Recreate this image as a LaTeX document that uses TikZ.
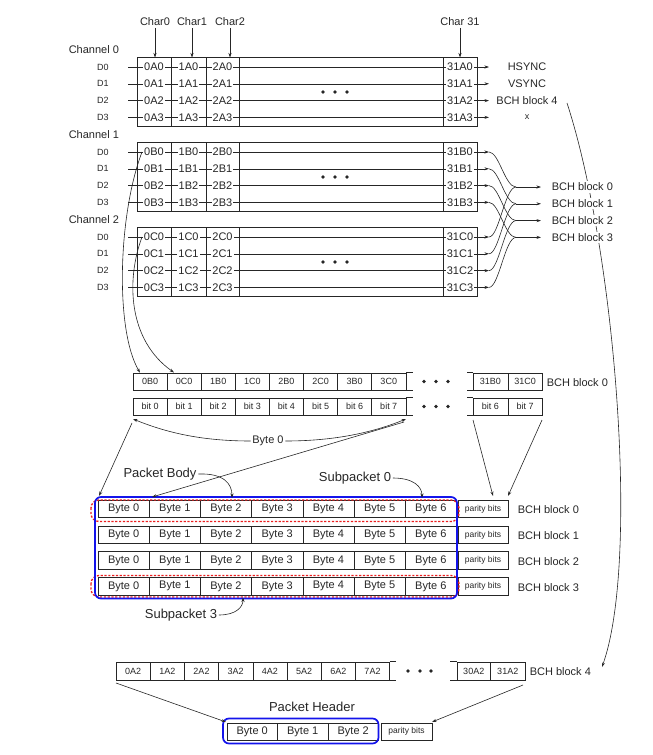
\documentclass[tikz,border=0pt]{standalone}
\usepackage{fontspec}
\setmainfont{Liberation Sans}
\usetikzlibrary{arrows.meta}
\definecolor{ink}{gray}{0.15}
\definecolor{bblue}{RGB}{20,20,235}
\definecolor{rred}{RGB}{235,30,30}
\tikzset{
  arr/.style={-{Stealth[length=4.5pt,width=3pt]}},
  lbl/.style={font=\fontsize{11}{13}\selectfont, text=ink, inner sep=1.5pt},
  big/.style={font=\fontsize{13}{15}\selectfont, text=ink, inner sep=1.5pt},
  dl/.style={font=\fontsize{9}{11}\selectfont, text=ink, inner sep=1pt},
  cell/.style={font=\fontsize{11}{13}\selectfont, text=ink, fill=white, inner sep=1pt},
  scell/.style={draw=ink, font=\fontsize{9}{11}\selectfont, text=ink, minimum width=34.1pt, minimum height=17pt, inner sep=0pt},
  bcell/.style={draw=ink, font=\fontsize{11}{13}\selectfont, text=ink, minimum width=51.2pt, minimum height=17.5pt, inner sep=0pt},
  pcell/.style={draw=ink, font=\fontsize{8.5}{10}\selectfont, text=ink, minimum width=50pt, minimum height=17.5pt, inner sep=0pt},
  hcell/.style={draw=ink, font=\fontsize{11}{13}\selectfont, text=ink, minimum width=50.5pt, minimum height=17pt, inner sep=0pt},
  dotmark/.style={fill=ink, draw=none},
  bluebox/.style={draw=bblue, line width=1.7pt, rounded corners=6pt},
  redbox/.style={draw=rred, line width=1.3pt, dash pattern=on 2.2pt off 1.6pt, rounded corners=8pt},
}
\begin{document}
\begin{tikzpicture}[x=1pt,y=-1pt,line width=0.6pt,draw=ink]
\useasboundingbox (0,0) rectangle (653,755);

% ---- Char labels
\foreach \xx/\t/\nm in {155/Char0/ca,192/Char1/cb,230/Char2/cc,460/Char 31/cd} {
  \node[lbl] (\nm) at (\xx,22) {\t};
  \coordinate (\nm t) at (\xx,57.5);
  \draw[arr] (\nm.south) -- (\nm t);
}

% ---- long curve (BCH block 4)
\coordinate (lc0) at (567,103);
\coordinate (lc1) at (602,667);
\draw[arr] (lc0) .. controls (615,250) and (640,560) .. (lc1);

% ---- channels
\foreach \L/\b/\n in {A/67/0,B/152/1,C/237/2} {
  \node[lbl,anchor=west] (chlab\n) at (67,{\b-17}) {Channel \n};
  \draw (137,{\b-9.5}) rectangle (477,{\b+59.4});
  \foreach \xx in {171,206,239,443} \draw (\xx,{\b-9.5}) -- (\xx,{\b+59.4});
  \foreach \r in {0,...,3} {
    \pgfmathsetmacro\yy{\b+16.8*\r}
    \node[dl] (d\L\r) at (103,\yy) {D\r};
    \coordinate (s\L\r) at (128,\yy);
    \coordinate (e\L\r) at (489,\yy);
    \draw[arr] (s\L\r) -- (e\L\r);
    \node[cell] (c0\L\r) at (154,\yy) {0\L\r};
    \node[cell] (c1\L\r) at (188.5,\yy) {1\L\r};
    \node[cell] (c2\L\r) at (222.5,\yy) {2\L\r};
    \node[cell] (c31\L\r) at (460,\yy) {31\L\r};
  }
  \foreach \xx in {323,335,347} \fill[dotmark] (\xx,{\b+25}) circle (1.9pt);
}

% ---- channel 0 outputs
\node[lbl] (hs) at (527,67) {HSYNC};
\node[lbl] (vs) at (527,83.8) {VSYNC};
\node[lbl] (b4top) at (527,100.6) {BCH block 4};
\node[dl] (xx) at (527,117.5) {x};

% ---- channel 1/2 to BCH blocks
\foreach \r in {0,...,3} {
  \pgfmathsetmacro\yb{152+16.8*\r}
  \pgfmathsetmacro\yc{237+16.8*\r}
  \pgfmathsetmacro\yk{187+16.8*\r}
  \coordinate (m\r) at (516,\yk);
  \coordinate (t\r) at (541,\yk);
  \draw (eB\r) .. controls (499,\yb) and (505,\yk) .. (m\r);
  \draw (eC\r) .. controls (499,\yc) and (505,\yk) .. (m\r);
  \draw[arr] (m\r) -- (t\r);
  \node[lbl,anchor=west,fill=white] (bch\r) at (550,\yk) {BCH block \r};
}

% ---- BCH block 0 assembly rows
\foreach \t [count=\k from 0] in {0B0,0C0,1B0,1C0,2B0,2C0,3B0,3C0}
  \node[scell] (r\k) at ({150.05+34.1*\k},381.5) {\t};
\foreach \k in {0,...,7}
  \node[scell] (bt\k) at ({150.05+34.1*\k},406.5) {bit \k};
\node[scell, minimum width=34.8pt] (rB31) at (490.4,381.5) {31B0};
\node[scell, minimum width=34.8pt] (rC31) at (525.2,381.5) {31C0};
\node[scell, minimum width=34.8pt] (bt6r) at (490.4,406.5) {bit 6};
\node[scell, minimum width=34.8pt] (bt7r) at (525.2,406.5) {bit 7};
\foreach \nd in {r7,bt7} {
  \draw (\nd.north east) -- ++(7,0);
  \draw (\nd.south east) -- ++(7,0);
}
\foreach \nd in {rB31,bt6r} {
  \draw (\nd.north west) -- ++(-6,0);
  \draw (\nd.south west) -- ++(-6,0);
}
\foreach \yy in {381.5,406.5}
  \foreach \xx in {424,436,448} \fill[dotmark] (\xx,\yy) circle (1.9pt);
\node[lbl,anchor=west] (bchm) at (545,383) {BCH block 0};

% ---- curves from channels into BCH block 0
\coordinate (cb0) at (142,152);
\coordinate (cc0) at (142,237);
\draw[arr] (cb0) .. controls (118,215) and (115,330) .. (r0.north west -| 140,372);
\draw[arr] (cc0) .. controls (126,280) and (128,340) .. (174,372.5);

% ---- Byte 0 braces
\node[lbl,fill=white] (byte0) at (268,441) {Byte 0};
\coordinate (bl) at (133,419);
\coordinate (br) at (406,419);
\draw[arr] (byte0.west) .. controls (200,441) and (165,432) .. (bl);
\draw[arr] (byte0.east) .. controls (336,441) and (374,432) .. (br);

% ---- packet body
\foreach \yy [count=\r from 0] in {509,534.8,560.5,586.3} {
  \foreach \k in {0,...,6}
    \node[bcell] (p\r\k) at ({123.6+51.2*\k},\yy) {Byte \k};
  \node[pcell] (par\r) at (483,\yy) {parity bits};
  \node[lbl,anchor=west] (bb\r) at (516,{\yy+1}) {BCH block \r};
}
\draw[redbox] (91,500) rectangle (459,521.5);
\draw[redbox] (91,575.5) rectangle (459,597);
\draw[bluebox] (95,497) rectangle (457,598.5);

% ---- lines into packet body
\coordinate (bl2) at (132,423);
\coordinate (br2) at (404,422);
\coordinate (ptl) at (99,496);
\coordinate (pb1) at (152,497);
\draw[arr] (bl2) -- (ptl);
\draw[arr] (br2) -- (pb1);
\coordinate (q0) at (473,420);
\coordinate (q1) at (542,420);
\coordinate (q0e) at (493,496);
\coordinate (q1e) at (508,496);
\draw[arr] (q0) -- (q0e);
\draw[arr] (q1) -- (q1e);

% ---- labels with curved arrows
\node[big] (pbody) at (160,474) {Packet Body};
\coordinate (pbt) at (232,498);
\draw[arr] (pbody.east) .. controls (224,473) and (232,484) .. (pbt);
\node[big] (sp0) at (355,478) {Subpacket 0};
\coordinate (sp0t) at (422,498);
\draw[arr] (sp0.east) .. controls (414,478) and (422,487) .. (sp0t);
\node[big] (sp3) at (181,615) {Subpacket 3};
\coordinate (sp3t) at (243,597.5);
\draw[arr] (sp3.east) .. controls (236,615) and (243,607) .. (sp3t);

% ---- BCH block 4 row
\foreach \k in {0,...,7}
  \node[scell, minimum width=34.2pt, minimum height=18pt] (h\k) at ({133.1+34.2*\k},671) {\k A2};
\node[scell, minimum width=33.5pt, minimum height=18pt] (h30) at (473.75,671) {30A2};
\node[scell, minimum width=34.5pt, minimum height=18pt] (h31) at (507.75,671) {31A2};
\draw (h7.north east) -- ++(6,0);
\draw (h7.south east) -- ++(6,0);
\draw (h30.north west) -- ++(-7,0);
\draw (h30.south west) -- ++(-7,0);
\foreach \xx in {408,420,431} \fill[dotmark] (\xx,671) circle (1.9pt);
\node[lbl,anchor=west] (b4bot) at (528,672) {BCH block 4};

% ---- packet header
\node[big] (phdr) at (312,707) {Packet Header};
\foreach \k in {0,1,2}
  \node[hcell] (hb\k) at ({252.25+50.5*\k},731.5) {Byte \k};
\node[pcell, minimum width=51pt, minimum height=17pt] (hpar) at (406.5,731.5) {parity bits};
\draw[bluebox] (223,718.5) rectangle (378.5,743.5);
\coordinate (hl) at (116,683);
\coordinate (hr) at (523,685);
\coordinate (hle) at (226,722);
\coordinate (hre) at (432,722);
\draw[arr] (hl) -- (hle);
\draw[arr] (hr) -- (hre);
\end{tikzpicture}
\end{document}
